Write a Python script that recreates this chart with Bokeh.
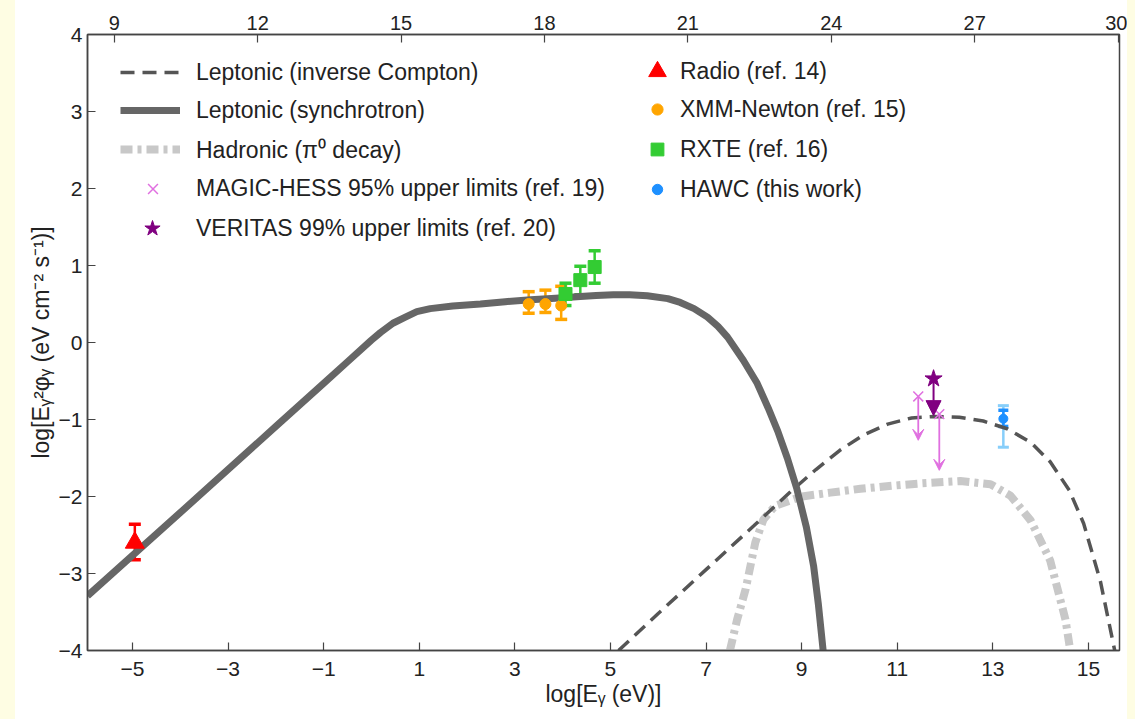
from bokeh.plotting import figure
from bokeh.models import (ColumnDataSource, Range1d, LinearAxis, FixedTicker, Whisker, TeeHead,
                          Arrow, VeeHead, NormalHead, Legend, LegendItem, Div)
from bokeh.layouts import row
from bokeh.embed import file_html
from bokeh.resources import INLINE

# ---------------- data (x = log10(E/eV), y = log10(E^2 phi / eV cm^-2 s^-1)) ----------------
sync_x = [-5.94, -4.0, -2.0, -1.0, -0.5, 0.0, 0.19, 0.45, 0.71, 0.95, 1.23, 1.7, 2.28, 2.8, 3.33, 3.85,
          4.37, 4.7, 5.06, 5.4, 5.77, 6.2, 6.46, 6.75, 7.03, 7.25, 7.45, 7.78, 8.07, 8.3, 8.5, 8.7,
          8.9, 9.1, 9.25, 9.35, 9.45]
sync_y = [-3.29, -2.21, -1.09, -0.53, -0.25, 0.03, 0.13, 0.25, 0.33, 0.40, 0.44, 0.475, 0.50, 0.53, 0.555, 0.575,
          0.597, 0.61, 0.62, 0.62, 0.606, 0.57, 0.52, 0.44, 0.33, 0.21, 0.07, -0.23, -0.53, -0.85, -1.15, -1.5,
          -1.9, -2.4, -2.9, -3.4, -4.0]

ic_x = [5.17, 6.0, 7.0, 8.0, 8.8, 9.3, 9.8, 10.3, 10.8, 11.3, 11.8, 12.3, 12.8, 13.3, 13.8, 14.2,
        14.6, 14.9, 15.25, 15.5, 15.65]
ic_y = [-4.0, -3.52, -2.95, -2.38, -1.92, -1.65, -1.4, -1.2, -1.06, -0.98, -0.96, -0.97, -1.02, -1.12, -1.3, -1.55,
        -1.92, -2.35, -3.1, -3.85, -4.3]

had_x = [7.5, 7.65, 7.83, 8.03, 8.2, 8.45, 9.0, 9.6, 10.23, 10.9, 11.49, 12.32, 12.95, 13.37, 13.79, 14.2,
         14.52, 14.62]
had_y = [-4.0, -3.6, -3.2, -2.6, -2.3, -2.12, -2.0, -1.95, -1.9, -1.86, -1.83, -1.8, -1.84, -1.99, -2.31, -2.83,
         -3.6, -4.0]

radio_x = [-4.95]
radio_y = [-2.60]
radio_lo = [-2.82]
radio_hi = [-2.36]

xmm_x = [3.29, 3.64, 3.97]
xmm_y = [0.50, 0.50, 0.48]
xmm_lo = [0.38, 0.39, 0.30]
xmm_hi = [0.66, 0.68, 0.73]

rxte_x = [4.06, 4.37, 4.67]
rxte_y = [0.63, 0.81, 0.98]
rxte_lo = [0.48, 0.62, 0.77]
rxte_hi = [0.77, 0.99, 1.19]

magic_x = [11.44, 11.88]
magic_y = [-0.70, -0.93]
magic_arrow_to = [-1.27, -1.66]

veritas_x = [11.76]
veritas_y = [-0.47]
veritas_arrow_to = [-0.95]

hawc_x = [13.22]
hawc_y = [-0.99]
hawc_stat_lo = [-1.09]
hawc_stat_hi = [-0.88]
hawc_sys_lo = [-1.36]
hawc_sys_hi = [-0.82]

x_ticks = [-5, -3, -1, 1, 3, 5, 7, 9, 11, 13, 15]
y_ticks = [-4, -3, -2, -1, 0, 1, 2, 3, 4]
top_ticks = [9, 12, 15, 18, 21, 24, 27, 30]
NU_OFFSET = 14.38  # log10(Hz per eV)

# ---------------- styles ----------------
XMIN, XMAX = -5.94, 15.65
FONT = "Liberation Sans"
AXC = "#444444"
RED = "#ff0000"
ORANGE = "#ffa500"
GREEN = "#33cc33"
VIOLET = "#e070e0"
PURPLE = "#800080"
BLUE = "#1e90ff"
LBLUE = "#87cefa"
PAGE_BG = "#fefde3"
FRAME_H = 616


def minus(t):
    return "\u2212%d" % (-t) if t < 0 else "%d" % t


p = figure(width=1112, height=719, x_range=Range1d(XMIN, XMAX), y_range=Range1d(-4, 4),
           output_backend="svg", toolbar_location=None,
           min_border_left=72, min_border_right=8, min_border_top=34, min_border_bottom=69,
           background_fill_color="white", border_fill_color="white",
           x_axis_label="log[E\u1d67 (eV)]",
           y_axis_label="log[E\u1d67\u00b2\u03c6\u1d67 (eV cm\u207b\u00b2 s\u207b\u00b9)]")
p.grid.visible = False
p.outline_line_color = AXC
p.outline_line_width = 1.5

bottom = p.xaxis[0]
left = p.yaxis[0]

p.extra_x_ranges = {"nu": Range1d(XMIN + NU_OFFSET, XMAX + NU_OFFSET)}
top = LinearAxis(x_range_name="nu", ticker=FixedTicker(ticks=top_ticks))
p.add_layout(top, "above")

bottom.ticker = FixedTicker(ticks=x_ticks)
left.ticker = FixedTicker(ticks=y_ticks)
bottom.major_label_overrides = {t: minus(t) for t in x_ticks}
left.major_label_overrides = {t: minus(t) for t in y_ticks}

for ax in (bottom, left, top):
    ax.axis_line_color = AXC
    ax.axis_line_width = 1.5
    ax.major_tick_line_color = AXC
    ax.major_tick_line_width = 1.2
    ax.major_tick_in = 8
    ax.major_tick_out = 0
    ax.minor_tick_line_color = None
    ax.major_label_text_font = FONT
    ax.major_label_text_font_size = "21px"
    ax.major_label_text_color = "#222222"
    ax.axis_label_text_font = FONT
    ax.axis_label_text_font_size = "23px"
    ax.axis_label_text_font_style = "normal"
    ax.axis_label_text_color = "#222222"

top.major_label_text_font_size = "20px"
top.major_label_standoff = 5
bottom.major_label_standoff = 11
bottom.axis_label_standoff = 2
left.major_label_standoff = 5
left.axis_label_standoff = 2

# ---------------- model curves ----------------
r_had = p.line(had_x, had_y, line_color="#c8c8c8", line_width=8, line_dash="12 5 4 5")
r_ic = p.line(ic_x, ic_y, line_color="#555555", line_width=3.5, line_dash="14 8")
r_sync = p.line(sync_x, sync_y, line_color="#666666", line_width=7, line_join="round")


# ---------------- data points ----------------
def add_err(x, lo, hi, color, cap, lw, cap_lw):
    src = ColumnDataSource(dict(x=x, lo=lo, hi=hi))
    w = Whisker(source=src, base="x", lower="lo", upper="hi", dimension="height",
                line_color=color, line_width=lw,
                lower_head=TeeHead(size=cap, line_color=color, line_width=cap_lw),
                upper_head=TeeHead(size=cap, line_color=color, line_width=cap_lw))
    p.add_layout(w)


r_radio = p.scatter(radio_x, radio_y, marker="triangle", size=19, fill_color=RED, line_color=RED)
add_err(radio_x, radio_lo, radio_hi, RED, 12, 2.5, 3.5)

r_xmm = p.scatter(xmm_x, xmm_y, marker="circle", size=11, fill_color=ORANGE, line_color=ORANGE)
add_err(xmm_x, xmm_lo, xmm_hi, ORANGE, 12, 2.5, 3.5)

r_rxte = p.scatter(rxte_x, rxte_y, marker="square", size=13, fill_color=GREEN, line_color=GREEN)
add_err(rxte_x, rxte_lo, rxte_hi, GREEN, 12, 2.5, 3.5)

r_magic = p.scatter(magic_x, magic_y, marker="x", size=14, line_color=VIOLET, line_width=1.5)
magic_src = ColumnDataSource(dict(x=magic_x, y=magic_y, y_end=magic_arrow_to))
p.add_layout(Arrow(source=magic_src, x_start="x", y_start="y", x_end="x", y_end="y_end",
                   line_color=VIOLET, line_width=1.8,
                   end=VeeHead(size=11, fill_color=VIOLET, line_color=VIOLET)))

ver_src = ColumnDataSource(dict(x=veritas_x, y=veritas_y, y_end=veritas_arrow_to))
p.add_layout(Arrow(source=ver_src, x_start="x", y_start="y", x_end="x", y_end="y_end",
                   line_color=PURPLE, line_width=2,
                   end=NormalHead(size=15, fill_color=PURPLE, line_color=PURPLE)))
r_ver = p.scatter(veritas_x, veritas_y, marker="star", size=18, fill_color=PURPLE, line_color=PURPLE)

add_err(hawc_x, hawc_sys_lo, hawc_sys_hi, LBLUE, 11, 2.5, 3)
add_err(hawc_x, hawc_stat_lo, hawc_stat_hi, BLUE, 10, 2.5, 3.5)
r_hawc = p.scatter(hawc_x, hawc_y, marker="circle", size=9, fill_color=BLUE, line_color=BLUE)


# ---------------- legend (one Legend per entry so each sample gets its own size) ----------------
def legend_entry(label, renderer, cx, cy, text_x, gw, gh):
    """cx, cy: sample centre, text_x: label start, all in px from the frame's top-left."""
    gh = max(gh, 30)
    leg = Legend(items=[LegendItem(label=label, renderers=[renderer])],
                 location=(int(round(cx - gw / 2)), int(round(FRAME_H - cy - gh / 2))),
                 glyph_width=gw, glyph_height=gh, label_height=gh,
                 label_standoff=max(0, int(round(text_x - (cx + gw / 2)))),
                 padding=0, margin=0, spacing=0,
                 border_line_alpha=0, background_fill_alpha=0,
                 label_text_font=FONT, label_text_font_size="23px", label_text_color="#222222")
    p.add_layout(leg)


# left column: line samples 60 px wide, markers sized as in the plot (legend marker = 0.4 * box)
legend_entry("Leptonic (inverse Compton)", r_ic, 63, 38, 109, 60, 30)
legend_entry("Leptonic (synchrotron)", r_sync, 63, 76, 109, 60, 30)
legend_entry("Hadronic (\u03c0\u2070 decay)", r_had, 63, 116, 109, 60, 30)
legend_entry("MAGIC-HESS 95% upper limits (ref. 19)", r_magic, 65, 155, 109, 35, 35)
legend_entry("VERITAS 99% upper limits (ref. 20)", r_ver, 65, 194, 109, 40, 40)
# right column
legend_entry("Radio (ref. 14)", r_radio, 570, 37, 593, 44, 44)
legend_entry("XMM-Newton (ref. 15)", r_xmm, 570, 75, 593, 28, 30)
legend_entry("RXTE (ref. 16)", r_rxte, 570, 115, 593, 32, 32)
legend_entry("HAWC (this work)", r_hawc, 570, 155, 593, 26, 30)

strip_l = Div(text="", width=15, height=719, margin=0, styles={"background-color": PAGE_BG})
strip_r = Div(text="", width=8, height=719, margin=0, styles={"background-color": PAGE_BG})
layout = row(strip_l, p, strip_r)

open("out.html", "w").write(file_html(layout, INLINE))
